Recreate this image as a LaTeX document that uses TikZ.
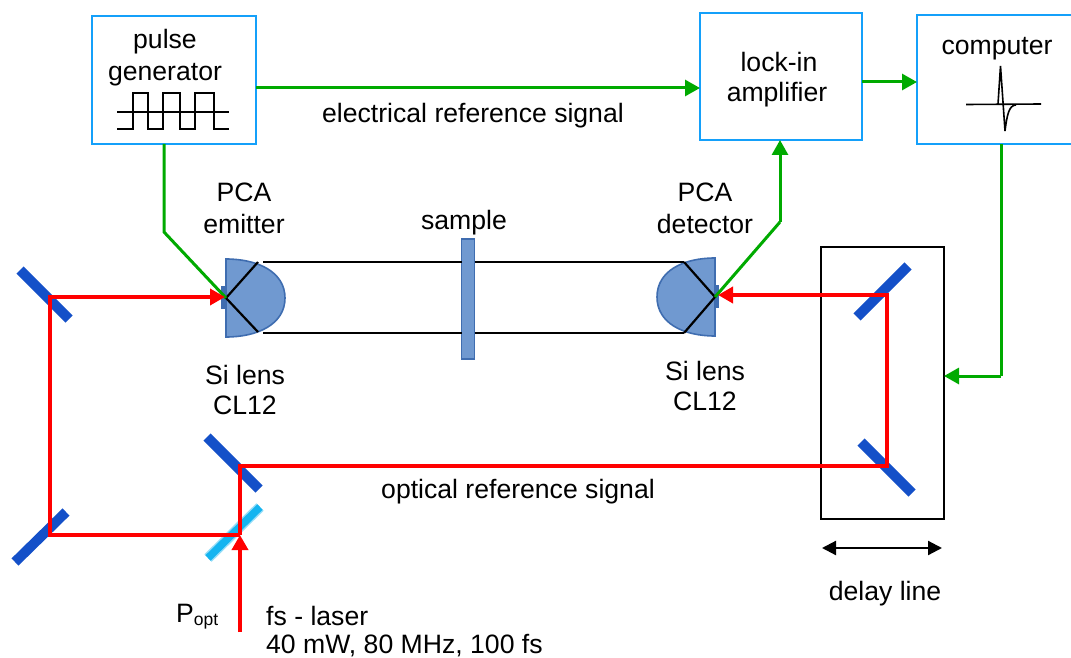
\documentclass[tikz,border=0pt]{standalone}
\usepackage{fontspec}
\setmainfont{Liberation Sans}
\usetikzlibrary{arrows.meta}
\definecolor{boxblue}{HTML}{14A0FA}
\definecolor{sig}{HTML}{00AA00}
\definecolor{beam}{HTML}{FF0000}
\definecolor{mirror}{HTML}{1450C8}
\definecolor{split}{HTML}{14B4F0}
\definecolor{lensfill}{HTML}{7099D0}
\definecolor{lensedge}{HTML}{3F6DB0}
\tikzset{
  x=1pt,y=-1pt,
  txt/.style={font=\fontsize{26.6}{26.6}\selectfont,anchor=base,inner sep=0pt,text=black},
  boxnode/.style={draw=boxblue,line width=2.4pt,anchor=north west,inner sep=0pt,outer sep=0pt,fill=white},
  greenline/.style={draw=sig,line width=3pt,line join=miter},
  greenarrow/.style={greenline,-{Triangle[length=15pt,width=16pt]}},
  redline/.style={draw=beam,line width=3.6pt,line join=miter},
  redarrow/.style={redline,-{Triangle[length=15pt,width=16pt]}},
  ray/.style={draw=black,line width=2.2pt},
  wave/.style={draw=black,line width=1.2pt},
  mirrorbar/.style={draw=mirror,line width=10pt},
  splitbar/.style={draw=split!45,line width=10.5pt},
  splitcore/.style={draw=split,line width=7.5pt},
  optic/.style={draw=lensedge,fill=lensfill,line width=1.6pt,outer sep=0pt},
}
\begin{document}
\begin{tikzpicture}
\useasboundingbox (0,0) rectangle (1071,658);
\clip (0,0) rectangle (1071,658);
% boxes
\node[boxnode,minimum width=164pt,minimum height=128pt] (pulse) at (92,16) {};
\node[boxnode,minimum width=162pt,minimum height=127pt] (lockin) at (700,13) {};
\node[boxnode,minimum width=170pt,minimum height=129pt] (computer) at (917,15) {};
\node[draw=black,line width=2.2pt,anchor=north west,inner sep=0pt,outer sep=0pt,minimum width=123pt,minimum height=272pt] (delay) at (821,247) {};
% texts
\node[txt] (t1) at (165,49) {pulse};
\node[txt] (t2) at (165,81) {generator};
\node[txt] (t3) at (779,72) {lock-in};
\node[txt] (t4) at (777,102) {amplifier};
\node[txt] (t5) at (997,55) {computer};
\node[txt] (t6) at (473,123) {electrical reference signal};
\node[txt] (t7) at (244,201) {PCA};
\node[txt] (t8) at (244,233) {emitter};
\node[txt] (t9) at (464,229) {sample};
\node[txt] (t10) at (705,201) {PCA};
\node[txt] (t11) at (705,233) {detector};
\node[txt] (t12) at (245,384) {Si lens};
\node[txt] (t13) at (245,414) {CL12};
\node[txt] (t14) at (705,380) {Si lens};
\node[txt] (t15) at (705,410) {CL12};
\node[txt] (t16) at (518,498) {optical reference signal};
\node[txt] (t17) at (885,600) {delay line};
\node[txt,anchor=base west] (t18) at (176,622) {P\raisebox{-3pt}{\fontsize{17.5}{17.5}\selectfont opt}};
\node[txt,anchor=base west] (t19) at (266,625) {fs - laser};
\node[txt,anchor=base west] (t20) at (266,653) {40 mW, 80 MHz, 100 fs};
% waveforms
\draw[wave] (117,112) -- (229,112);
\draw[wave] (117,129) -- (133,129) -- (133,93) -- (148,93) -- (148,129) -- (163,129) -- (163,93) -- (180,93) -- (180,129) -- (195,129) -- (195,93) -- (214,93) -- (214,129) -- (229,129);
\draw[wave,line width=1.6pt] (966,104.5) -- (1041,104);
\draw[wave,line width=1.6pt] (998,104) -- (1000.5,66) -- (1005,131) .. controls (1007,115) and (1009,105) .. (1016,105);
% lenses, emitter and detector, sample
\coordinate (lensL) at (226,298);
\coordinate (lensR) at (715,297);
\draw[optic] (226,259) .. controls (258,259) and (285,272) .. (285,298) .. controls (285,324) and (258,337) .. (226,337) -- cycle;
\draw[optic] (715,258) .. controls (683,258) and (657,271) .. (657,297) .. controls (657,323) and (683,336) .. (715,336) -- cycle;
\node[optic,fill=lensedge,anchor=center,inner sep=0pt,minimum width=3pt,minimum height=21pt] (emitter) at (223.5,297.5) {};
\node[optic,fill=lensedge,anchor=center,inner sep=0pt,minimum width=3pt,minimum height=21pt] (detector) at (717,296.5) {};
\node[optic,anchor=center,inner sep=0pt,minimum width=13pt,minimum height=120pt] (sample) at (468,299) {};
% THz rays
\coordinate (la) at (258,262); \coordinate (lb) at (258,332);
\coordinate (ra) at (684,262); \coordinate (rb) at (684,333);
\coordinate (lc) at (263,262); \coordinate (ld) at (263,333);
\draw[ray] (la) -- (lensL) -- (lb);
\draw[ray] (ra) -- (lensR) -- (rb);
\draw[ray] (lc) -- (sample.west |- lc);
\draw[ray] (ld) -- (sample.west |- ld);
\draw[ray] (sample.east |- lc) -- (ra);
\draw[ray] (sample.east |- ld) -- (rb);
% mirrors
\coordinate (m1a) at (20,270); \coordinate (m1b) at (69,319);
\coordinate (m2a) at (15,562); \coordinate (m2b) at (66,512);
\coordinate (m3a) at (207,437); \coordinate (m3b) at (259,489);
\coordinate (m4a) at (857,317); \coordinate (m4b) at (908,266);
\coordinate (m5a) at (861,442); \coordinate (m5b) at (912,493);
\coordinate (m6a) at (208,558); \coordinate (m6b) at (260,507);
\draw[mirrorbar] (m1a) -- (m1b);
\draw[mirrorbar] (m2a) -- (m2b);
\draw[mirrorbar] (m3a) -- (m3b);
\draw[mirrorbar] (m4a) -- (m4b);
\draw[mirrorbar] (m5a) -- (m5b);
\draw[splitbar] (m6a) -- (m6b);
\draw[splitcore] (m6a) -- (m6b);
% electrical signals
\coordinate (g1) at (256,88);
\coordinate (g2) at (164,232);
\coordinate (g3) at (780,222);
\coordinate (g4) at (1001,376);
\coordinate (g5) at (862,82);
\draw[greenarrow] (g1) -- (lockin.west |- g1);
\draw[greenarrow] (g5) -- (computer.west |- g5);
\draw[greenline] (164,144) -- (g2) -- (lensL);
\draw[greenline] (lensR) -- (g3);
\draw[greenarrow] (g3) -- (780,140);
\draw[greenline] (1001,144) -- (g4);
\draw[greenarrow] (g4) -- (delay.east |- g4);
% laser beams
\coordinate (src) at (240,632);
\coordinate (bs) at (240,535);
\coordinate (b2) at (50,535);
\coordinate (b1) at (50,297);
\coordinate (b3) at (240,466);
\coordinate (b5) at (887,466);
\coordinate (b4) at (887,295);
\draw[redarrow] (bs) -- (b2) -- (b1) -- ([xshift=-1pt]lensL |- b1);
\draw[redarrow] (bs) -- (b3) -- (b5) -- (b4) -- ([xshift=3pt]lensR |- b4);
\draw[redarrow] (src) -- (bs);
% delay travel
\coordinate (d1) at (822,548); \coordinate (d2) at (942,548);
\draw[black,line width=2.2pt,{Triangle[length=14pt,width=14pt]}-{Triangle[length=14pt,width=14pt]}] (d1) -- (d2);
\end{tikzpicture}
\end{document}
